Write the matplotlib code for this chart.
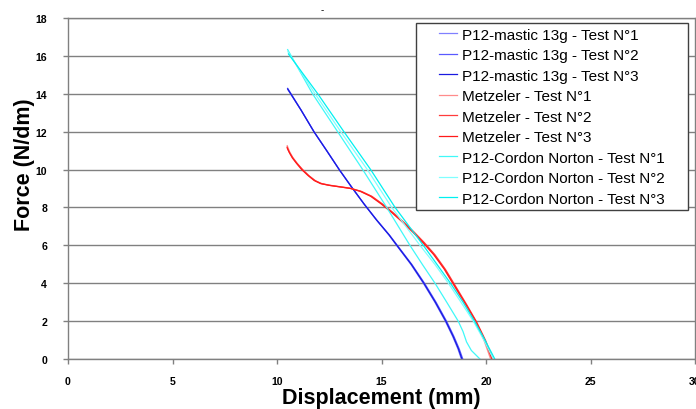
import matplotlib
matplotlib.use("Agg")
import matplotlib.pyplot as plt
from matplotlib.patches import Rectangle

plt.rcParams['font.family'] = ['Liberation Sans', 'DejaVu Sans']

# P12-mastic 13g (blue)
mastic1_x = [10.51, 11.15, 11.77, 12.38, 12.98, 13.55, 14.15, 14.75, 15.35, 15.72, 16.40, 17.00, 17.55, 18.05, 18.40, 18.65, 18.82]
mastic1_y = [14.29, 13.15, 12.00, 11.00, 10.00, 9.10, 8.20, 7.35, 6.55, 6.00, 5.00, 4.00, 3.00, 2.00, 1.20, 0.55, 0.00]
mastic2_x = [10.52, 11.16, 11.78, 12.39, 12.99, 13.57, 14.17, 14.78, 15.39, 15.77, 16.46, 17.07, 17.62, 18.12, 18.47, 18.72, 18.89]
mastic2_y = [14.22, 13.12, 11.98, 10.98, 9.98, 9.08, 8.18, 7.33, 6.53, 5.98, 4.98, 3.98, 2.98, 1.98, 1.18, 0.53, 0.00]
mastic3_x = [10.51, 11.15, 11.77, 12.38, 12.98, 13.56, 14.16, 14.76, 15.37, 15.74, 16.43, 17.03, 17.58, 18.08, 18.43, 18.68, 18.85]
mastic3_y = [14.26, 13.14, 11.99, 10.99, 9.99, 9.09, 8.19, 7.34, 6.54, 5.99, 4.99, 3.99, 2.99, 1.99, 1.19, 0.54, 0.00]

# Metzeler (red)
metz1_x = [10.49, 10.60, 10.75, 10.95, 11.20, 11.50, 11.80, 12.10, 12.50, 13.00, 13.50, 14.00, 14.50, 15.00, 15.50, 16.00, 16.50, 17.00, 17.50, 18.00, 18.40, 19.00, 19.47, 19.90, 20.22]
metz1_y = [11.26, 10.95, 10.65, 10.35, 10.02, 9.70, 9.43, 9.27, 9.18, 9.10, 9.02, 8.86, 8.60, 8.20, 7.75, 7.26, 6.72, 6.15, 5.52, 4.75, 4.00, 2.90, 2.00, 1.00, 0.00]
metz2_x = [10.50, 10.62, 10.78, 10.98, 11.24, 11.54, 11.85, 12.15, 12.55, 13.05, 13.55, 14.05, 14.55, 15.05, 15.55, 16.05, 16.56, 17.06, 17.56, 18.06, 18.47, 19.07, 19.54, 19.98, 20.32]
metz2_y = [11.10, 10.85, 10.58, 10.30, 9.98, 9.66, 9.40, 9.25, 9.16, 9.08, 9.00, 8.84, 8.58, 8.18, 7.73, 7.24, 6.70, 6.13, 5.50, 4.73, 3.98, 2.88, 1.98, 0.98, 0.00]
metz3_x = [10.48, 10.58, 10.73, 10.93, 11.18, 11.48, 11.78, 12.08, 12.48, 12.98, 13.48, 13.98, 14.48, 14.98, 15.48, 15.98, 16.49, 16.99, 17.50, 18.01, 18.42, 19.03, 19.51, 19.95, 20.28]
metz3_y = [11.18, 10.92, 10.62, 10.33, 10.00, 9.69, 9.42, 9.26, 9.17, 9.09, 9.01, 8.85, 8.59, 8.19, 7.74, 7.25, 6.71, 6.14, 5.51, 4.74, 3.99, 2.89, 1.99, 0.99, 0.00]

# P12-Cordon Norton (cyan)
cordon1_x = [10.51, 11.70, 12.90, 14.10, 15.25, 16.36, 16.98, 17.56, 18.12, 18.67, 18.90, 19.07, 19.30, 19.71]
cordon1_y = [16.33, 14.00, 12.00, 10.00, 8.00, 6.00, 4.95, 4.00, 3.00, 2.00, 1.45, 0.90, 0.45, 0.00]
cordon2_x = [10.52, 11.82, 13.05, 14.32, 15.49, 16.84, 17.55, 18.20, 18.80, 19.39, 19.90, 20.35]
cordon2_y = [16.22, 14.00, 12.00, 10.00, 8.00, 6.00, 5.00, 4.00, 3.00, 2.00, 1.00, 0.00]
cordon3_x = [10.55, 11.95, 13.20, 14.48, 15.65, 17.00, 17.65, 18.30, 18.90, 19.45, 19.95, 20.42]
cordon3_y = [16.10, 14.00, 12.00, 10.00, 8.00, 6.00, 5.00, 4.00, 3.00, 2.00, 1.00, 0.00]

series = [
    (mastic1_x, mastic1_y, '#8080ff', 'P12-mastic 13g - Test N°1'),
    (mastic2_x, mastic2_y, '#5a5aff', 'P12-mastic 13g - Test N°2'),
    (mastic3_x, mastic3_y, '#1a1ae0', 'P12-mastic 13g - Test N°3'),
    (metz1_x, metz1_y, '#ff8c8c', 'Metzeler - Test N°1'),
    (metz2_x, metz2_y, '#ff3c3c', 'Metzeler - Test N°2'),
    (metz3_x, metz3_y, '#ff1a1a', 'Metzeler - Test N°3'),
    (cordon1_x, cordon1_y, '#40f8f8', 'P12-Cordon Norton - Test N°1'),
    (cordon2_x, cordon2_y, '#80ffff', 'P12-Cordon Norton - Test N°2'),
    (cordon3_x, cordon3_y, '#00f0f0', 'P12-Cordon Norton - Test N°3'),
]

fig = plt.figure(figsize=(6.96, 4.10), dpi=100)
ax = fig.add_axes([68 / 696, 1 - 360 / 410, 627 / 696, 341 / 410])

for x, y, c, lab in series:
    ax.plot(x, y, color=c, lw=0.9, label=lab)

ax.set_xlim(0, 30)
ax.set_ylim(0, 18)
ax.set_xticks(range(0, 31, 5))
ax.set_yticks(range(0, 19, 2))
ax.grid(axis='y', color='#808080', lw=1.0)
ax.set_axisbelow(True)
for s in ax.spines.values():
    s.set_color('#808080')
    s.set_linewidth(1.0)
ax.tick_params(colors='#808080', length=3.6, width=1, labelcolor='black')
ax.tick_params(axis='x', pad=8.5)
ax.tick_params(axis='y', pad=11.5)
for t in ax.get_xticklabels() + ax.get_yticklabels():
    t.set_family(['Liberation Sans Narrow', 'Liberation Sans'])
    t.set_fontsize(7.6)
    t.set_fontweight('bold')

ax.set_xlabel('Displacement (mm)', fontsize=15.5, fontweight='bold')
ax.xaxis.set_label_coords(0.5, -0.082)
ax.set_ylabel('Force (N/dm)', fontsize=15.5, fontweight='bold')
ax.yaxis.set_label_coords(-0.053, 0.572)

fig.text(321.7 / 696, 1 - 10 / 410, '-', fontsize=7, ha='center', va='center')

# legend box
box = Rectangle((0.555, 0.437), 0.434, 0.548, transform=ax.transAxes,
                facecolor='white', edgecolor='#404040', lw=1.0, zorder=4)
ax.add_patch(box)
leg = ax.legend(loc='upper left', bbox_to_anchor=(0.592, 0.9716), frameon=False,
                fontsize=11, handlelength=1.18, handletextpad=0.33,
                labelspacing=0.425, borderpad=0.0, borderaxespad=0.0)
leg.set_zorder(5)

fig.savefig('out.png', dpi=100)
